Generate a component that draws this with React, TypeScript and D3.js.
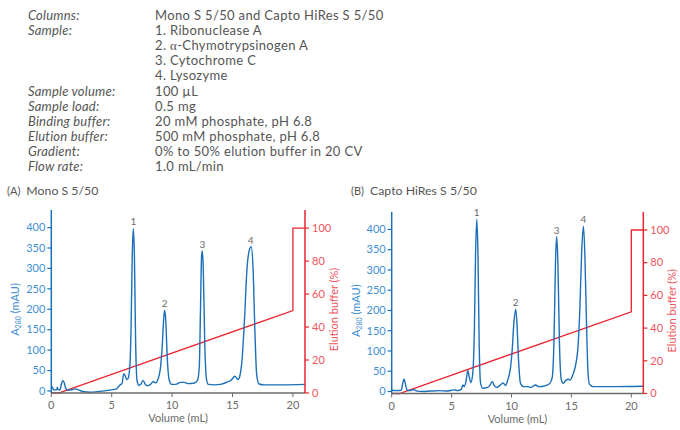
import React from "react";
import * as d3 from "d3";

// ---------- DATA ----------
const headerLabels = [
  "Columns:", "Sample:", "", "", "", "Sample volume:", "Sample load:",
  "Binding buffer:", "Elution buffer:", "Gradient:", "Flow rate:",
];
const headerValues = [
  "Mono S 5/50 and Capto HiRes S 5/50",
  "1. Ribonuclease A",
  "2. α-Chymotrypsinogen A",
  "3. Cytochrome C",
  "4. Lysozyme",
  "100 µL",
  "0.5 mg",
  "20 mM phosphate, pH 6.8",
  "500 mM phosphate, pH 6.8",
  "0% to 50% elution buffer in 20 CV",
  "1.0 mL/min",
];

const xTicks = [0, 5, 10, 15, 20];
const absTicks = [0, 50, 100, 150, 200, 250, 300, 350, 400];
const pctTicks = [0, 20, 40, 60, 80, 100];

// Panel A trace: [volume mL, A280 mAU]
const traceA: [number, number][] = [
  [0, 5], [0.08, 10], [0.18, 3], [0.3, 2], [0.45, 3], [0.5, 9], [0.56, 3], [0.7, 2],
  [0.85, 18], [0.95, 25], [1.05, 22], [1.2, 6], [1.4, 2], [1.7, 3], [2.0, 5], [2.3, 2],
  [2.7, -2], [3.2, -3], [4.0, -1], [4.8, 2], [5.4, 5], [5.6, 12], [5.75, 16], [5.85, 18],
  [6.0, 42], [6.1, 38], [6.25, 28], [6.35, 30], [6.5, 60], [6.6, 150], [6.7, 330],
  [6.79, 398], [6.88, 330], [6.98, 120], [7.1, 25], [7.25, 14], [7.4, 16], [7.6, 26],
  [7.8, 15], [8.0, 13], [8.2, 16], [8.45, 23], [8.6, 20], [8.75, 23], [8.9, 35],
  [9.05, 60], [9.2, 120], [9.3, 175], [9.38, 198], [9.47, 175], [9.6, 80], [9.75, 28],
  [9.95, 16], [10.3, 16], [10.7, 21], [11.0, 21], [11.3, 18], [11.8, 19], [12.1, 26],
  [12.25, 60], [12.35, 200], [12.44, 330], [12.5, 343], [12.58, 300], [12.7, 120],
  [12.85, 28], [13.0, 16], [13.5, 15], [14.0, 16], [14.5, 21], [14.9, 27], [15.2, 36],
  [15.45, 28], [15.6, 36], [15.8, 80], [16.0, 180], [16.2, 300], [16.45, 350],
  [16.55, 353], [16.7, 300], [16.85, 150], [17.0, 40], [17.2, 17], [17.6, 15], [19, 15],
  [21, 16],
];

// Panel B trace
const traceB: [number, number][] = [
  [0, 3], [0.4, 2], [0.8, 3], [0.92, 20], [1.03, 31], [1.13, 20], [1.3, 3], [1.5, 2],
  [1.8, 5], [2.1, 1], [2.6, 0], [3.2, 1], [4.0, 2], [4.6, 1], [5.2, 4], [5.5, 2],
  [5.8, 5], [5.95, 16], [6.05, 12], [6.2, 25], [6.35, 52], [6.45, 40], [6.6, 22],
  [6.75, 40], [6.9, 150], [7.0, 340], [7.1, 425], [7.2, 340], [7.3, 120], [7.42, 20],
  [7.6, 8], [8.0, 10], [8.2, 15], [8.4, 25], [8.55, 15], [8.75, 10], [9.0, 14],
  [9.3, 21], [9.5, 15], [9.7, 30], [9.9, 55], [10.05, 100], [10.2, 170], [10.35, 203],
  [10.45, 170], [10.6, 70], [10.75, 20], [11.0, 12], [11.4, 12], [11.6, 10], [12.0, 16],
  [12.3, 12], [12.8, 14], [13.2, 20], [13.4, 35], [13.55, 130], [13.68, 330],
  [13.77, 382], [13.87, 320], [14.0, 120], [14.15, 30], [14.33, 20], [14.55, 28],
  [14.75, 30], [14.9, 28], [15.1, 40], [15.35, 65], [15.55, 110], [15.7, 200],
  [15.85, 340], [16.0, 408], [16.12, 340], [16.25, 180], [16.38, 50], [16.5, 18],
  [16.8, 12], [18, 12], [21, 13],
];

// Gradient: [volume mL, elution buffer %]
const gradientA: [number, number][] = [[0, 0], [0.6, 0], [20, 50], [20, 100], [21, 100]];
const gradientB: [number, number][] = [[0, 0], [0.65, 0], [20, 50], [20, 100], [21, 100]];

// Peak labels: [label, volume, height]
const peaksA: [string, number, number][] = [["1", 6.79, 398], ["2", 9.38, 198], ["3", 12.5, 343], ["4", 16.5, 353]];
const peaksB: [string, number, number][] = [["1", 7.1, 425], ["2", 10.35, 203], ["3", 13.77, 382], ["4", 16.0, 408]];

// ---------- STYLE ----------
const FONT = "Lato, 'Open Sans', sans-serif";
const BLUE = "#1c6fb8";
const BLUE_TXT = "#3f8fd2";
const RED = "#ea2530";
const RED_TXT = "#f2545d";
const GREY = "#6b6b6b";
const TEXT = "#555555";

type PanelProps = {
  letter: string;
  title: string;
  titleX: number;
  left: number;
  right: number;
  top: number;
  bottom: number;
  trace: [number, number][];
  gradient: [number, number][];
  peaks: [string, number, number][];
};

function Panel(p: PanelProps) {
  const x = d3.scaleLinear().domain([0, 21]).range([p.left, p.right]);
  const yL = d3.scaleLinear().domain([-5, 443]).range([p.bottom, p.top]);
  const yR = d3.scaleLinear().domain([0, 111]).range([p.bottom, p.top]);
  const line = d3
    .line<[number, number]>()
    .x((d) => x(d[0]))
    .y((d) => yL(d[1]))
    .curve(d3.curveMonotoneX);
  const gline = d3
    .line<[number, number]>()
    .x((d) => x(d[0]))
    .y((d) => yR(d[1]));
  const midY = (p.top + p.bottom) / 2 + 8;
  return (
    <g>
      <text x={p.titleX} y={195} fontFamily={FONT} fill={TEXT}>
        <tspan fontSize={11}>({p.letter})</tspan>
        <tspan dx={6} fontSize={12.3}>{p.title}</tspan>
      </text>
      {/* gradient */}
      <path d={gline(p.gradient) || ""} fill="none" stroke={RED} strokeWidth={1.3} />
      {/* trace */}
      <path d={line(p.trace) || ""} fill="none" stroke={BLUE} strokeWidth={1.4} strokeLinejoin="round" />
      {/* x axis */}
      <line x1={p.left} x2={p.right} y1={p.bottom} y2={p.bottom} stroke={GREY} strokeWidth={1.6} />
      {xTicks.map((t) => (
        <g key={"x" + t}>
          <line x1={x(t)} x2={x(t)} y1={p.bottom} y2={p.bottom + 4} stroke={GREY} strokeWidth={1} />
          <text x={x(t)} y={p.bottom + 16} textAnchor="middle" fontSize={11} fontFamily={FONT} fill={GREY}>
            {t}
          </text>
        </g>
      ))}
      <text x={(p.left + p.right) / 2} y={p.bottom + 29} textAnchor="middle" fontSize={11} fontFamily={FONT} fill={GREY}>
        Volume (mL)
      </text>
      {/* left axis */}
      <line x1={p.left} x2={p.left} y1={p.top} y2={p.bottom} stroke={BLUE} strokeWidth={1.5} />
      {absTicks.map((t) => (
        <g key={"l" + t}>
          <line x1={p.left - 4} x2={p.left} y1={yL(t)} y2={yL(t)} stroke={BLUE} strokeWidth={1.2} />
          <text x={p.left - 6} y={yL(t) + 3.8} textAnchor="end" fontSize={11} fontFamily={FONT} fill={BLUE_TXT}>
            {t}
          </text>
        </g>
      ))}
      <text
        transform={`translate(${p.left - 32},${midY}) rotate(-90)`}
        textAnchor="middle"
        fontSize={11}
        fontFamily={FONT}
        fill={BLUE_TXT}
      >
        A<tspan fontSize={7} dy={2}>280</tspan>
        <tspan dy={-2}> (mAU)</tspan>
      </text>
      {/* right axis */}
      <line x1={p.right} x2={p.right} y1={p.top} y2={p.bottom} stroke={RED} strokeWidth={1.5} />
      {pctTicks.map((t) => (
        <g key={"r" + t}>
          <line x1={p.right} x2={p.right + 4} y1={yR(t)} y2={yR(t)} stroke={RED} strokeWidth={1.2} />
          <text x={p.right + 7} y={yR(t) + 3.8} textAnchor="start" fontSize={11} fontFamily={FONT} fill={RED_TXT}>
            {t}
          </text>
        </g>
      ))}
      <text
        transform={`translate(${p.right + 33},${midY}) rotate(-90)`}
        textAnchor="middle"
        fontSize={11}
        fontFamily={FONT}
        fill={RED_TXT}
      >
        Elution buffer (%)
      </text>
      {/* peak labels */}
      {p.peaks.map(([lab, v, h]) => (
        <text key={"p" + lab} x={x(v)} y={yL(h) - 3} textAnchor="middle" fontSize={10} fontFamily={FONT} fill={GREY}>
          {lab}
        </text>
      ))}
    </g>
  );
}

export default function App() {
  return (
    <svg width={680} height={430} style={{ position: "absolute", left: 0, top: 0, background: "#fff" }}>
      {headerLabels.map((l, i) => (
        <text key={"hl" + i} x={28} y={20 + i * 15.1} fontSize={13} fontStyle="italic" fontFamily={FONT} fill={TEXT} letterSpacing={0.2}>
          {l}
        </text>
      ))}
      {headerValues.map((v, i) => {
        if (v.includes("α")) {
          const [a, b] = v.split("α");
          return (
            <text key={"hv" + i} x={155} y={20 + i * 15.1} fontSize={13} fontFamily={FONT} fill={TEXT} letterSpacing={0.35}>
              {a}
              <tspan fontFamily="'Liberation Serif', serif">α</tspan>
              {b}
            </text>
          );
        }
        return (
          <text key={"hv" + i} x={155} y={20 + i * 15.1} fontSize={13} fontFamily={FONT} fill={TEXT} letterSpacing={0.35}>
            {v}
          </text>
        );
      })}
      <Panel letter="A" title="Mono S 5/50" titleX={7} left={51.3} right={305} top={210} bottom={393}
        trace={traceA} gradient={gradientA} peaks={peaksA} />
      <Panel letter="B" title="Capto HiRes S 5/50" titleX={351} left={391.7} right={643.3} top={212} bottom={393.5}
        trace={traceB} gradient={gradientB} peaks={peaksB} />
    </svg>
  );
}
